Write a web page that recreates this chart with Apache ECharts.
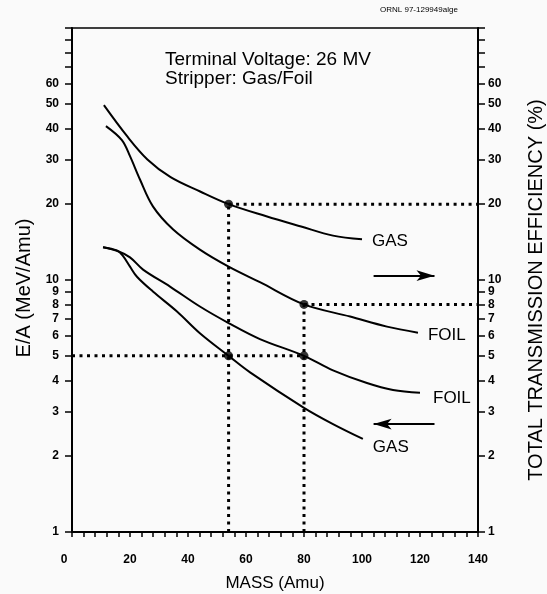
<!DOCTYPE html>
<html><head><meta charset="utf-8">
<script src="https://cdn.jsdelivr.net/npm/echarts@6/dist/echarts.min.js"></script>
<style>html,body{margin:0;padding:0;background:#fafafa}#c{width:547px;height:594px}</style>
</head><body><div id="c"></div>
<script>
// ---- data ----
const yLabelValues = [1,2,3,4,5,6,7,8,9,10,20,30,40,50,60];
const yTickValues = [1,2,3,4,5,6,7,8,9,10,20,30,40,50,60,70,80,90,100];

// Transmission efficiency (right axis)
const gasTransMass = [11, 19, 26, 34, 44, 54, 67, 79, 90, 100];
const gasTransVal  = [49.4, 37.2, 30.1, 25.6, 22.5, 20.0, 17.9, 16.3, 15.0, 14.5];
const foilTransMass = [11.7, 17.2, 20, 23.4, 27.9, 34.8, 44.1, 54, 64.8, 80, 95.9, 108.6, 119.3];
const foilTransVal  = [40.8, 35.9, 31, 25.1, 19.6, 15.9, 13.2, 11.3, 9.8, 8.0, 7.16, 6.53, 6.18];

// E/A (left axis)
const foilEAMass = [10.7, 15.9, 20, 24.5, 33.8, 44.1, 54, 64.8, 80, 90, 101.7, 110.7, 120];
const foilEAVal  = [13.5, 13.0, 12.3, 11.0, 9.42, 7.85, 6.75, 5.83, 5.0, 4.38, 3.9, 3.66, 3.57];
const gasEAMass = [10.7, 15.5, 17.5, 20, 22.4, 27.9, 36.2, 44.1, 54, 61.4, 80, 90, 100.3];
const gasEAVal  = [13.5, 13.1, 12.5, 11.3, 10.3, 9.0, 7.5, 6.15, 5.0, 4.3, 3.11, 2.68, 2.34];

// reading guides
const guideMass = [54, 80];
const guideTrans = [20, 8];
const guideEA = 5;
const arrowRight = [[104, 10.4], [125, 10.4]];
const arrowLeft  = [[125, 2.68], [104, 2.68]];

const FONT = '"Liberation Sans", Arial, Helvetica, sans-serif';
const zip = (a, b) => a.map((v, i) => [v, b[i]]);

const dotted = {color:'#000', width:3, type:[3,4.5], cap:'butt'};
function guide(data, yi) {
  return {type:'line', data, yAxisIndex: yi, symbol:'none', silent:true, z:1,
          lineStyle: dotted, animation:false};
}
function curve(name, data, yi, lab, off) {
  return {type:'line', name, data, yAxisIndex: yi, symbol:'none', smooth:0.35, z:3,
          lineStyle:{color:'#000', width:2}, animation:false,
          endLabel:{show:true, formatter: lab, distance: 10, offset:off, color:'#000',
                    fontSize:17, fontFamily:FONT}};
}

function yAxisCfg(pos, name, gap, pad) {
  return {
    type:'log', logBase:10, min:1, max:100, position:pos,
    axisLine:{show:true, onZero:false, lineStyle:{color:'#000', width:2}},
    axisTick:{show:true, length:7, customValues:yTickValues, lineStyle:{color:'#000', width:1.5}},
    axisLabel:{customValues:yLabelValues, margin: pos==='left'?13:10, color:'#000', fontSize:12,
               fontWeight:'bold', fontFamily:FONT},
    splitLine:{show:false},
    name, nameLocation:'middle', nameGap:gap, nameRotate:90,
    nameTextStyle:{color:'#000', fontSize:20, fontFamily:FONT, padding:pad}
  };
}

const chart = echarts.init(document.getElementById('c'), null, {renderer:'canvas'});
chart.setOption({
  backgroundColor:'#fafafa',
  animation:false,
  grid:{left:72, right:69, top:28, bottom:62, show:true, borderColor:'#000', borderWidth:1.5,
        backgroundColor:'transparent', containLabel:false, outerBoundsMode:'none'},
  xAxis:{
    type:'value', min:0, max:140, interval:20,
    axisLine:{show:true, onZero:false, lineStyle:{color:'#000', width:2}},
    axisTick:{show:true, length:5, lineStyle:{color:'#000', width:1.5}},
    minorTick:{show:true, splitNumber:5, length:5, lineStyle:{color:'#000', width:1.5}},
    axisLabel:{margin:22, color:'#000', fontSize:12, fontWeight:'bold', fontFamily:FONT,
               formatter: v => v === 0 ? '{z|0}' : String(v),
               rich:{z:{padding:[0,16,0,0], fontSize:12, fontWeight:'bold', fontFamily:FONT, color:'#000'}}},
    splitLine:{show:false},
    name:'MASS (Amu)', nameLocation:'middle', nameGap:43,
    nameTextStyle:{color:'#000', fontSize:17, fontFamily:FONT}
  },
  yAxis:[yAxisCfg('left', 'E/A (MeV/Amu)', 38, [0,16,0,0]),
         yAxisCfg('right', 'TOTAL TRANSMISSION EFFICIENCY (%)', 48, [0,20,0,0])],
  graphic:[
    {type:'text', left:165, top:50, style:{text:'Terminal Voltage: 26 MV', font:'19px '+FONT, fill:'#000'}},
    {type:'text', left:165, top:69, style:{text:'Stripper: Gas/Foil', font:'19px '+FONT, fill:'#000'}},
    {type:'text', left:380, top:6, style:{text:'ORNL 97-129949alge', font:'8px '+FONT, fill:'#000'}}
  ],
  series:[
    guide([[guideMass[0],1],[guideMass[0],guideTrans[0]]], 1),
    guide([[guideMass[1],1],[guideMass[1],guideTrans[1]]], 1),
    guide([[guideMass[0],guideTrans[0]],[140,guideTrans[0]]], 1),
    guide([[guideMass[1],guideTrans[1]],[140,guideTrans[1]]], 1),
    guide([[0,guideEA],[guideMass[1],guideEA]], 0),
    curve('gasTrans', zip(gasTransMass, gasTransVal), 1, 'GAS', [0,2]),
    curve('foilTrans', zip(foilTransMass, foilTransVal), 1, 'FOIL', [0,3]),
    curve('foilEA', zip(foilEAMass, foilEAVal), 0, 'FOIL', [3,6]),
    curve('gasEA', zip(gasEAMass, gasEAVal), 0, 'GAS', [0,8]),
    {type:'scatter', yAxisIndex:1, symbolSize:9, itemStyle:{color:'#000'}, z:4, silent:true,
     data:[[guideMass[0],guideTrans[0]],[guideMass[1],guideTrans[1]],[guideMass[0],guideEA],[guideMass[1],guideEA]]},
    {type:'line', data:[], yAxisIndex:0, silent:true,
     markLine:{silent:true, animation:false, symbol:['none','arrow'], symbolSize:[8,18], label:{show:false},
       lineStyle:{color:'#000', width:2, type:'solid'},
       data:[[{coord:arrowRight[0]},{coord:arrowRight[1]}],[{coord:arrowLeft[0]},{coord:arrowLeft[1]}]]}}
  ]
});
</script></body></html>
